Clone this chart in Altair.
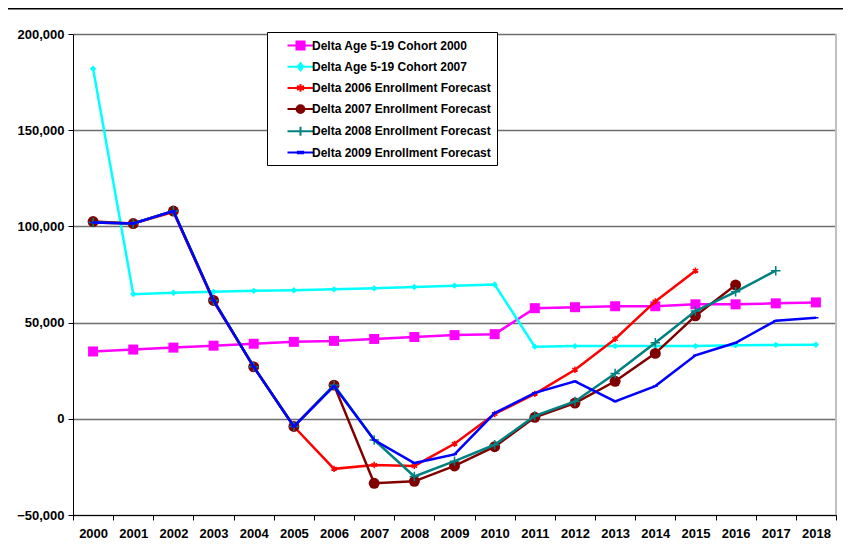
import altair as alt
import pandas as pd

years = [str(y) for y in range(2000, 2019)]

series_names = [
    "Delta Age 5-19 Cohort 2000",
    "Delta Age 5-19 Cohort 2007",
    "Delta 2006 Enrollment Forecast",
    "Delta 2007 Enrollment Forecast",
    "Delta 2008 Enrollment Forecast",
    "Delta 2009 Enrollment Forecast",
]
colors = ["#FF00FF", "#00FFFF", "#FF0000", "#800000", "#008080", "#0000FF"]

cohort_2000 = [35000, 36000, 37000, 38000, 39000, 40000, 40500, 41500, 42500, 43500,
               44000, 57500, 58000, 58500, 58500, 59500, 59500, 60000, 60500]
cohort_2007 = [182000, 64800, 65500, 66000, 66500, 66800, 67300, 67800, 68500, 69200,
               69800, 37500, 37800, 37800, 37800, 37800, 38200, 38400, 38500]
forecast_2006 = [102000, 101500, 107500, 61000, 27000, -4000, -26000, -24000, -24500, -13000,
                 2500, 13000, 25500, 41500, 61000, 77000, None, None, None]
forecast_2007 = [102500, 101500, 108000, 61500, 27000, -4000, 17500, -33500, -32500, -24500,
                 -14500, 800, 8200, 19500, 34000, 53500, 69500, None, None]
forecast_2008 = [102000, 101500, 108000, 61500, 27000, -4000, 17500, -11000, -30000, -22000,
                 -13500, 1500, 9000, 23500, 39500, 56000, 66000, 77000, None]
forecast_2009 = [102000, 101500, 108000, 61500, 27000, -4000, 17000, -11000, -23000, -18500,
                 3000, 13500, 19500, 9000, 17000, 33000, 39500, 51000, 52500]

y_ticks = [-50000, 0, 50000, 100000, 150000, 200000]

series_values = [cohort_2000, cohort_2007, forecast_2006, forecast_2007, forecast_2008, forecast_2009]

rows = []
for name, vals in zip(series_names, series_values):
    for yr, v in zip(years, vals):
        if v is not None:
            rows.append({"series": name, "year": yr, "value": v})
df = pd.DataFrame(rows)

FONT = "Liberation Sans"

x_enc = alt.X(
    "year:O",
    sort=years,
    scale=alt.Scale(type="band", domain=years, paddingInner=0, paddingOuter=0),
    bandPosition=0.5,
    title=None,
    axis=alt.Axis(tickBand="extent", labelAngle=0, labelPadding=7, grid=False),
)
y_enc = alt.Y(
    "value:Q",
    scale=alt.Scale(domain=[-50000, 200000], nice=False, zero=False),
    title=None,
    axis=alt.Axis(values=y_ticks, format=",.0f", labelPadding=4, grid=True,
                  gridColor="#6e6e6e", gridWidth=1.3),
)

asterisk = "M0,-1L0,1M-0.87,-0.5L0.87,0.5M-0.87,0.5L0.87,-0.5"
plus = "M-1,0L1,0M0,-1L0,1"
dash = "M-1,-0.3L1,-0.3L1,0.3L-1,0.3Z"

marker_styles = [
    dict(shape="square", size=100, filled=True, opacity=1),
    dict(shape="diamond", size=40, filled=True, opacity=1),
    dict(shape=asterisk, size=40, filled=False, strokeWidth=1.5, opacity=1),
    dict(shape="circle", size=120, filled=True, opacity=1),
    dict(shape=plus, size=90, filled=False, strokeWidth=1.5, opacity=1),
    dict(shape=dash, size=25, filled=True, opacity=1),
]

legend_paths = [
    "M-2,0L2,0M-0.62,-0.62L0.62,-0.62L0.62,0.62L-0.62,0.62Z",
    "M-2,0L2,0M0,-0.55L0.42,0L0,0.55L-0.42,0Z",
    "M-2,0L2,0M0,-0.6L0,0.6M-0.52,-0.3L0.52,0.3M-0.52,0.3L0.52,-0.3",
    "M-2,0L2,0M-0.6,0A0.6,0.6,0,1,1,0.6,0A0.6,0.6,0,1,1,-0.6,0Z",
    "M-2,0L2,0M0,-0.7L0,0.7",
    "M-2,0L2,0M-0.4,-0.12L0.4,-0.12L0.4,0.12L-0.4,0.12Z",
]

base = alt.Chart(df)

layers = []
for name, color, mk in zip(series_names, colors, marker_styles):
    sub = base.transform_filter(alt.datum.series == name)
    layers.append(sub.mark_line(color=color, strokeWidth=2.5).encode(x=x_enc, y=y_enc))
    layers.append(sub.mark_point(color=color, **mk).encode(x=x_enc, y=y_enc))

legend = alt.Legend(
    title=None, orient="none", legendX=194, legendY=-2,
    padding=6, rowPadding=4.2, symbolOffset=20, labelOffset=4,
    fillColor="white", strokeColor="black",
    symbolSize=169, symbolStrokeWidth=2, symbolOpacity=1,
    labelFont=FONT, labelFontSize=12, labelFontWeight="bold", labelColor="black",
    labelLimit=400, labelExpr="datum.label + '\u00a0'",
)
legend_layer = base.mark_point(filled=True, opacity=0).encode(
    x=x_enc, y=y_enc,
    fill=alt.Fill("series:N", scale=alt.Scale(domain=series_names, range=colors), legend=legend),
    stroke=alt.Stroke("series:N", scale=alt.Scale(domain=series_names, range=colors), legend=legend),
    shape=alt.Shape("series:N", scale=alt.Scale(domain=series_names, range=legend_paths), legend=legend),
)

deco = alt.Chart(pd.DataFrame({"k": [0]}))
right_border = deco.mark_rule(color="#c0c0c0", strokeWidth=2).encode(
    x=alt.value(763), y=alt.value(0), y2=alt.value(481))
frame_top = deco.mark_rect(color="black").encode(
    x=alt.value(-65), x2=alt.value(770), y=alt.value(-26), y2=alt.value(-24.5))

chart = alt.layer(right_border, frame_top, *layers, legend_layer).properties(
    width=763, height=481,
    autosize=alt.AutoSizeParams(type="none"),
    padding={"left": 65, "top": 26, "right": 7, "bottom": 36},
    background="white",
).configure_view(stroke=None).configure_axis(
    labelFont=FONT, labelFontSize=13, labelFontWeight="bold", labelColor="black",
    tickSize=5, tickColor="black", domainColor="black", domainWidth=1,
)

chart.save("out.html", embed_options={"renderer": "svg", "actions": False})
